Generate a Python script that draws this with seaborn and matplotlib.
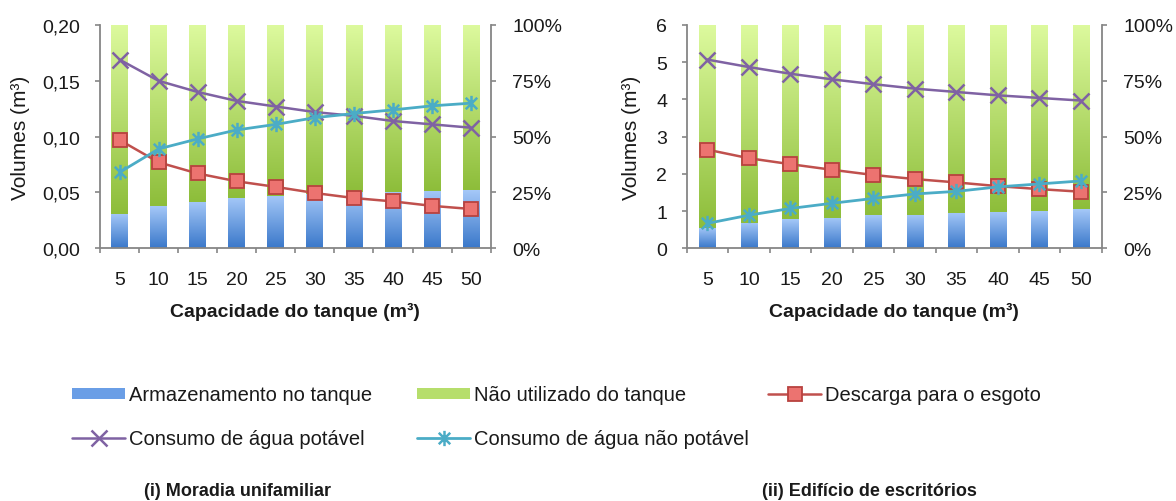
import numpy as np
import matplotlib
matplotlib.use("Agg")
import matplotlib.pyplot as plt
import seaborn as sns
from matplotlib.colors import LinearSegmentedColormap
from matplotlib.patches import Patch
from matplotlib.lines import Line2D
from matplotlib.path import Path
from matplotlib.ticker import FuncFormatter

# ---------------- data ----------------
capacidades = ["5", "10", "15", "20", "25", "30", "35", "40", "45", "50"]

# (i) Moradia unifamiliar
arm_i = [15.3, 18.8, 20.9, 22.4, 23.6, 24.5, 25.0, 25.4, 25.8, 25.9]          # % of tank
desc_i = [0.097, 0.077, 0.067, 0.060, 0.055, 0.0495, 0.045, 0.042, 0.038, 0.0352]  # m3
pot_i = [0.169, 0.150, 0.140, 0.132, 0.127, 0.122, 0.1186, 0.114, 0.111, 0.108]
npot_i = [0.068, 0.089, 0.098, 0.106, 0.111, 0.117, 0.1207, 0.124, 0.1276, 0.130]

# (ii) Edificio de escritorios
arm_ii = [9.2, 11.4, 12.9, 13.7, 14.7, 14.8, 15.9, 16.2, 16.5, 17.4]
desc_ii = [2.65, 2.42, 2.26, 2.11, 1.97, 1.86, 1.77, 1.67, 1.59, 1.52]
pot_ii = [5.07, 4.87, 4.69, 4.54, 4.41, 4.29, 4.20, 4.11, 4.04, 3.97]
npot_ii = [0.67, 0.89, 1.07, 1.21, 1.34, 1.46, 1.53, 1.65, 1.73, 1.81]

labels = ["Armazenamento no tanque", "Não utilizado do tanque", "Descarga para o esgoto",
          "Consumo de água potável", "Consumo de água não potável"]
titles = ["(i) Moradia unifamiliar", "(ii) Edifício de escritórios"]

# ---------------- style ----------------
sns.set_style("white")
plt.rcParams["font.family"] = ["Liberation Sans", "DejaVu Sans"]
FS = 14
GREEN_TOP, GREEN_BOT = "#ddfa9e", "#8dbd3a"
BLUE_TOP, BLUE_BOT = "#a5c8f8", "#3a78ca"
RED, RED_FACE, RED_EDGE = "#c0504d", "#ec7370", "#b8423f"
PURPLE = "#7f62a3"
CYAN = "#4bacc6"
GRAY = "#868686"
TXT = "#1a1a1a"

star = Path([(0, -1), (0, 1), (-0.75, -0.75), (0.75, 0.75), (-0.75, 0.75), (0.75, -0.75)],
            [Path.MOVETO, Path.LINETO, Path.MOVETO, Path.LINETO, Path.MOVETO, Path.LINETO])

W, H = 1176, 502
fig = plt.figure(figsize=(W / 100, H / 100), dpi=100)


def gradient(ax, patch, top, bot, ybot=None):
    x0, y0 = patch.get_x(), patch.get_y()
    w, h = patch.get_width(), patch.get_height()
    if ybot is None:
        ybot = y0
    cmap = LinearSegmentedColormap.from_list("g", [bot, top])
    grad = np.linspace(0, 1, 256).reshape(-1, 1)
    im = ax.imshow(grad, cmap=cmap, origin="lower", aspect="auto",
                   extent=(x0, x0 + w, ybot, y0 + h), interpolation="bilinear",
                   zorder=patch.get_zorder())
    im.set_clip_path(patch)
    patch.set_facecolor("none")
    patch.set_edgecolor("none")


def panel(px, arm, desc, pot, npot, vmax, vticks, vfmt, barw, ylab_x):
    x0, y0, x1, y1 = px
    axb = fig.add_axes([x0 / W, 1 - y1 / H, (x1 - x0) / W, (y1 - y0) / H])
    n = len(capacidades)
    sns.barplot(x=capacidades, y=[100] * n, color=GREEN_BOT, width=barw, saturation=1,
                ax=axb, zorder=2)
    sns.barplot(x=capacidades, y=arm, color=BLUE_BOT, width=barw, saturation=1,
                ax=axb, zorder=2)
    pts = list(axb.patches)
    for p, b in zip(pts[:n], arm):
        gradient(axb, p, GREEN_TOP, GREEN_BOT, ybot=b)
    for p in pts[n:2 * n]:
        gradient(axb, p, BLUE_TOP, BLUE_BOT)

    axl = axb.twinx()
    xs = np.arange(n)
    sns.lineplot(x=xs, y=desc, ax=axl, color=RED, lw=1.8, marker="s", ms=10,
                 mfc=RED_FACE, mec=RED_EDGE, mew=1.3, sort=False, zorder=3)
    sns.lineplot(x=xs, y=pot, ax=axl, color=PURPLE, lw=1.8, marker="x", ms=11,
                 mec=PURPLE, mew=1.8, sort=False, zorder=3)
    sns.lineplot(x=xs, y=npot, ax=axl, color=CYAN, lw=2.0, marker=star, ms=11,
                 mec=CYAN, mfc="none", mew=1.8, sort=False, zorder=3)

    axb.set_xlim(-0.5, n - 0.5)
    axb.set_ylim(0, 100)
    axl.set_ylim(0, vmax)

    # right (percent) axis on bar axes
    axb.yaxis.tick_right()
    axb.set_yticks([0, 25, 50, 75, 100])
    axb.yaxis.set_major_formatter(FuncFormatter(lambda v, p: f"{int(v)}%"))
    axb.tick_params(axis="y", which="major", right=True, left=False, length=3.6, width=1.2,
                    color=GRAY, direction="out", pad=12, labelsize=FS, labelcolor=TXT)
    # left (volume) axis on line axes
    axl.yaxis.tick_left()
    axl.yaxis.set_label_position("left")
    axl.set_yticks(vticks)
    axl.yaxis.set_major_formatter(FuncFormatter(vfmt))
    axl.tick_params(axis="y", which="major", left=True, right=False, length=3.6, width=1.2,
                    color=GRAY, direction="out", pad=10.5, labelsize=FS, labelcolor=TXT)
    axl.set_ylabel("Volumes (m³)", fontsize=FS + 1, color=TXT)
    axl.yaxis.set_label_coords(ylab_x, 0.5)
    axl.set_xlabel("")

    # x axis
    axb.set_xticks(xs)
    axb.set_xticklabels(capacidades)
    axb.set_xticks(np.arange(-0.5, n, 1.0), minor=True)
    axb.tick_params(axis="x", which="major", length=0, pad=16.5, labelsize=FS, labelcolor=TXT)
    axb.tick_params(axis="x", which="minor", bottom=True, length=3.6, width=1.2, color=GRAY,
                    direction="out")
    axb.set_xlabel("Capacidade do tanque (m³)", fontsize=FS, weight="bold", color=TXT,
                   labelpad=10)
    axb.set_ylabel("")

    for a in (axb, axl):
        for s in a.spines.values():
            s.set_visible(False)
    axb.spines["bottom"].set_visible(True)
    axb.spines["bottom"].set_color(GRAY)
    axb.spines["bottom"].set_linewidth(1.3)
    for s in ("left", "right"):
        axl.spines[s].set_visible(True)
        axl.spines[s].set_color(GRAY)
        axl.spines[s].set_linewidth(1.3)
    axb.grid(False)
    axl.grid(False)
    return axb, axl


panel((100, 26, 490.7, 249.3), arm_i, desc_i, pot_i, npot_i, 0.20,
      [0, 0.05, 0.10, 0.15, 0.20], lambda v, p: f"{v:.2f}".replace(".", ","), 0.43, -0.18)
panel((686.7, 26, 1101.7, 249.3), arm_ii, desc_ii, pot_ii, npot_ii, 6,
      [0, 1, 2, 3, 4, 5, 6], lambda v, p: f"{int(round(v))}", 0.40, -0.11)

# ---------------- legend ----------------
handles = [
    Patch(facecolor="#6a9ee6", edgecolor="none"),
    Patch(facecolor="#b6de6c", edgecolor="none"),
    Line2D([], [], color=RED, lw=1.8, marker="s", ms=10, mfc=RED_FACE, mec=RED_EDGE, mew=1.3),
    Line2D([], [], color=PURPLE, lw=1.8, marker="x", ms=11, mec=PURPLE, mew=1.8),
    Line2D([], [], color=CYAN, lw=2.0, marker=star, ms=11, mec=CYAN, mfc="none", mew=1.8),
]
positions = [(72, 396), (417, 396), (768, 396), (72, 440), (417, 440)]
for h, l, (x, y) in zip(handles, labels, positions):
    leg = fig.legend(handles=[h], labels=[l], loc="center left",
                     bbox_to_anchor=(x / W, 1 - y / H), frameon=False, fontsize=FS + 0.5,
                     handlelength=2.65, handleheight=0.45, handletextpad=0.2,
                     borderpad=0, borderaxespad=0, labelcolor=TXT)

fig.text(238 / W, 1 - 492 / H, titles[0], ha="center", va="center", fontsize=FS - 1,
         weight="bold", color=TXT)
fig.text(869 / W, 1 - 492 / H, titles[1], ha="center", va="center", fontsize=FS - 1,
         weight="bold", color=TXT)

fig.savefig("out.png", dpi=100, facecolor="white")
